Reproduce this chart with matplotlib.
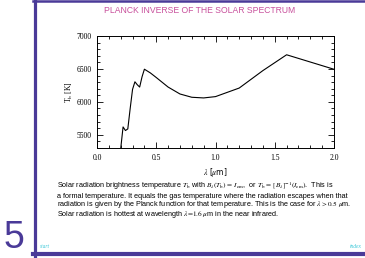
"""
Planck inverse of the solar spectrum, slide-style figure.
"""

import matplotlib
matplotlib.use("Agg")
import matplotlib.pyplot as plt
from matplotlib.lines import Line2D
from matplotlib.ticker import MultipleLocator

# brightness temperature
wavelength = [0.18, 0.20, 0.22, 0.24, 0.26, 0.28, 0.30, 0.32, 0.34, 0.36,
              0.38, 0.40, 0.45, 0.50, 0.60, 0.70, 0.80, 0.90, 1.00, 1.20,
              1.40, 1.60, 1.80, 2.00]
t_bright = [5000, 5290, 5620, 5565, 5590, 5900, 6190, 6305, 6260, 6225,
            6380, 6496, 6440, 6370, 6225, 6120, 6070, 6060, 6080, 6210,
            6475, 6715, 6605, 6495]

xticks = [0.0, 0.5, 1.0, 1.5, 2.0]
yticks = [5500, 6000, 6500, 7000]

frame_col = "#4a3a98"
title_col = "#c8509c"
link_col = "#3cc8d8"

plt.rcParams["mathtext.fontset"] = "stix"

fig = plt.figure(figsize=(3.65, 2.58), dpi=100)
W, H = 365.0, 258.0

# slide frame
fig.add_artist(Line2D([34.5 / W, 34.5 / W], [0, 1], color=frame_col, lw=2.3,
                      transform=fig.transFigure))
fig.add_artist(Line2D([33 / W, 1], [1 - 1 / H, 1 - 1 / H], color=frame_col, lw=1.8,
                      transform=fig.transFigure))
fig.add_artist(Line2D([33 / W, 1], [1 - 254 / H, 1 - 254 / H], color=frame_col, lw=3,
                      transform=fig.transFigure))

fig.text(200 / W, 1 - 10.5 / H, "PLANCK INVERSE OF THE SOLAR SPECTRUM",
         color=title_col, fontsize=6.2, family="Liberation Sans",
         ha="center", va="center")

# plot
ax = fig.add_axes([97 / W, 1 - 148 / H, 237 / W, 112 / H])
ax.plot(wavelength, t_bright, color="black", lw=0.8)
ax.set_xlim(0, 2)
ax.set_ylim(5300, 7000)
ax.set_xticks(xticks)
ax.set_yticks(yticks)
ax.set_xticklabels([f"{v:.1f}" for v in xticks])
ax.xaxis.set_minor_locator(MultipleLocator(0.1))
ax.yaxis.set_minor_locator(MultipleLocator(100))
ax.tick_params(which="both", direction="in", top=True, right=True,
               width=0.6, labelsize=5.5, pad=4)
ax.tick_params(which="major", length=4)
ax.tick_params(which="minor", length=2)
for lab in ax.get_xticklabels() + ax.get_yticklabels():
    lab.set_family("Liberation Serif")
for sp in ax.spines.values():
    sp.set_linewidth(0.7)
ax.set_xlabel(r"$\lambda$ [$\mu$m]", fontsize=5.5, labelpad=3)
ax.set_ylabel(r"T$_{\rm b}$ [K]", fontsize=5.5, family="Liberation Serif", labelpad=1)

# caption text
body = dict(fontsize=5.2, family="Liberation Sans", ha="left", va="center")
x0 = 57 / W
fig.text(x0, 1 - 186 / H,
         r"Solar radiation brightness temperature $T_{\rm b}$ with $B_\lambda(T_{\rm b})\,=\,I_{\rm em}$,"
         r"  or $T_{\rm b}\,=\,[B_\lambda]^{-1}(I_{\rm em})$.  This is", **body)
fig.text(x0, 1 - 196 / H,
         "a formal temperature. It equals the gas temperature where the radiation escapes when that",
         **body)
fig.text(x0, 1 - 205 / H,
         r"radiation is given by the Planck function for that temperature. This is the case for $\lambda>0.5\ \mu$m.",
         **body)
fig.text(x0, 1 - 215 / H,
         r"Solar radiation is hottest at wavelength $\lambda\!=\!1.6\ \mu$m in the near infrared.",
         **body)

# page number and links
fig.text(14 / W, 1 - 238 / H, "5", color=frame_col, fontsize=27,
         family="Liberation Sans", ha="center", va="center")
fig.text(40 / W, 1 - 246 / H, "start", color=link_col, fontsize=4,
         family="Liberation Serif", style="italic", ha="left", va="center")
fig.text(362 / W, 1 - 246 / H, "index", color=link_col, fontsize=4,
         family="Liberation Serif", style="italic", ha="right", va="center")

fig.savefig("out.png", dpi=100)
